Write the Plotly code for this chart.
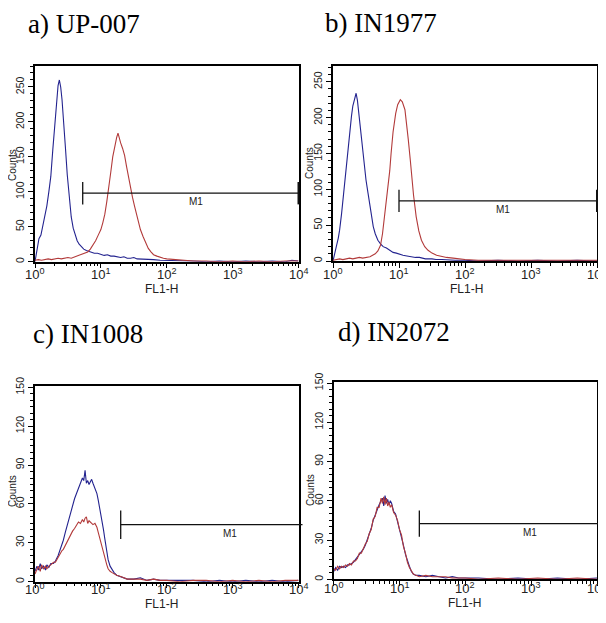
import math
import plotly.graph_objects as go

# The page body adds an 8 px margin, so the figure is drawn 8 px smaller
# and every reference pixel position is shifted by that amount.
PAGE_W, PAGE_H, BODY = 606, 623, 8
W, H = PAGE_W - BODY, PAGE_H - BODY

PANEL_TITLES = ["a) UP-007", "b) IN1977", "c) IN1008", "d) IN2072"]
X_TITLE = "FL1-H"
Y_TITLE = "Counts"
X_TICK_VALUES = [1, 10, 100, 1000, 10000]
X_TICK_TEXT = ["10<sup>0</sup>", "10<sup>1</sup>", "10<sup>2</sup>", "10<sup>3</sup>", "10<sup>4</sup>"]
Y_MAX = [280, 272, 151, 151]
Y_TICKS = [[0, 50, 100, 150, 200, 250], [0, 50, 100, 150, 200, 250],
           [0, 30, 60, 90, 120, 150], [0, 30, 60, 90, 120, 150]]
Y_MINOR_STEP = [10, 10, 5, 5]

# FL1-H positions given in decades (log10 of channel value) and counts
A_BLUE_DEC = [0.00,0.03,0.06,0.09,0.12,0.15,0.18,0.21,0.24,0.27,0.30,0.33,0.35,0.37,0.39,0.41,0.43,0.46,0.49,0.52,
              0.55,0.58,0.61,0.64,0.67,0.70,0.74,0.78,0.82,0.86,0.90,0.95,1.00,1.05,1.10,1.15,1.20,1.25,1.30,1.35,
              1.40,1.45,1.50,1.55,1.60,1.70,1.80,1.90,2.00,2.20,2.40,2.60,2.80,3.00,3.20,3.40,3.60,3.80,3.90,4.00]
A_BLUE_CNT = [0,14,33,38,52,66,80,100,122,160,198,238,252,260,250,232,210,166,124,90,
              64,48,38,30,25,22,18,16,15,13,12,12,11,9,10,8,8,7,6,7,
              5,5,6,4,4,3,3,2,2,1,1,0,1,0,1,0,1,0,2,1]
A_RED_DEC = [0.00,0.05,0.10,0.15,0.20,0.25,0.30,0.35,0.40,0.45,0.50,0.55,0.60,0.65,0.70,0.75,0.80,0.84,0.88,0.92,
             0.96,1.00,1.03,1.06,1.09,1.12,1.15,1.18,1.21,1.24,1.26,1.28,1.30,1.33,1.36,1.39,1.42,1.45,1.48,1.51,
             1.54,1.57,1.60,1.64,1.68,1.72,1.76,1.80,1.85,1.90,1.95,2.00,2.10,2.20,2.40,2.60,2.80,3.00,3.20,3.40,
             3.60,3.80,4.00]
A_RED_CNT = [2,3,2,3,4,3,4,5,4,5,6,5,7,8,10,12,14,18,24,30,
             38,46,56,68,86,104,128,150,166,178,184,176,170,162,152,136,120,106,92,80,
             68,56,46,36,26,19,14,10,8,6,5,4,3,2,1,1,0,1,0,1,
             0,1,1]

B_BLUE_DEC = [0.00,0.03,0.05,0.08,0.10,0.13,0.15,0.18,0.20,0.23,0.25,0.28,0.30,0.33,0.35,0.37,0.40,0.43,0.45,0.48,
              0.50,0.53,0.56,0.59,0.61,0.64,0.68,0.72,0.76,0.81,0.86,0.91,0.96,1.01,1.06,1.12,1.18,1.25,1.31,1.40,
              1.50,1.56,1.65,1.75,1.85,2.00,2.20,2.50,2.80,3.10,3.40,3.70,4.00]
B_BLUE_CNT = [0,10,20,32,43,66,85,110,132,160,179,202,216,226,234,224,197,172,155,130,
              113,95,76,58,48,38,29,24,20,18,15,12,11,9,8,7,6,5,5,3,
              3,2,2,1,1,1,0,1,0,1,0,1,0]
B_RED_DEC = [0.00,0.05,0.10,0.15,0.20,0.25,0.30,0.35,0.40,0.45,0.50,0.56,0.60,0.64,0.68,0.72,0.75,0.78,0.80,0.83,
             0.86,0.88,0.91,0.95,0.98,1.02,1.05,1.09,1.12,1.14,1.17,1.19,1.22,1.26,1.30,1.34,1.39,1.44,1.50,1.57,
             1.65,1.72,1.82,1.90,2.00,2.20,2.50,2.80,3.10,3.40,3.70,4.00]
B_RED_CNT = [1,2,3,2,3,4,3,4,5,4,5,6,8,10,14,22,38,62,78,99,
             126,150,180,206,218,225,222,211,190,170,142,118,92,62,42,29,20,15,11,8,
             6,5,4,3,2,1,1,0,1,0,1,1]

C_BLUE_DEC = [0.00,0.03,0.05,0.08,0.10,0.13,0.16,0.18,0.21,0.24,0.28,0.31,0.35,0.38,0.41,0.43,0.46,0.49,0.51,0.54,
              0.57,0.60,0.63,0.66,0.69,0.72,0.74,0.76,0.78,0.80,0.82,0.84,0.86,0.88,0.91,0.94,0.96,0.99,1.01,1.04,
              1.06,1.09,1.11,1.14,1.17,1.20,1.24,1.30,1.35,1.40,1.50,1.60,1.70,1.80,1.90,2.00,2.20,2.40,2.60,2.80,
              3.00,3.20,3.40,3.60,3.80,4.00]
C_BLUE_CNT = [8,12,9,14,10,12,9,13,11,14,14,16,20,24,28,32,38,44,48,53,
              58,64,68,72,76,80,78,86,76,78,75,77,79,76,72,68,63,55,48,40,
              33,24,17,12,9,7,5,4,3,2,2,3,1,2,1,1,1,1,0,1,
              0,1,0,1,0,1]
C_RED_DEC = C_BLUE_DEC
C_RED_CNT = [6,10,12,8,13,10,12,10,12,13,15,15,19,22,24,25,28,32,33,36,
             39,41,44,46,45,48,46,49,50,45,47,46,45,44,45,42,38,32,27,21,
             17,13,10,8,7,6,5,4,3,2,2,2,1,2,1,1,0,1,1,0,
             1,0,1,0,1,1]

D_BLUE_DEC = [0.00,0.03,0.06,0.09,0.12,0.15,0.18,0.21,0.24,0.27,0.30,0.33,0.36,0.39,0.42,0.45,0.48,0.51,0.54,0.57,
              0.60,0.63,0.66,0.69,0.72,0.74,0.76,0.78,0.80,0.82,0.84,0.86,0.88,0.91,0.94,0.97,1.00,1.03,1.06,1.09,
              1.12,1.15,1.18,1.21,1.25,1.30,1.40,1.50,1.60,1.70,1.80,1.90,2.00,2.20,2.50,2.80,3.10,3.40,3.70,4.00]
D_BLUE_CNT = [6,9,7,10,9,10,9,11,11,12,13,15,17,19,21,23,26,30,34,39,
              45,50,53,57,60,62,56,64,58,61,57,60,58,52,50,44,40,33,26,19,
              14,10,6,4,3,3,2,3,2,1,2,1,1,1,0,1,0,1,0,1]
D_RED_DEC = D_BLUE_DEC
D_RED_CNT = [8,7,10,8,10,9,11,10,12,11,14,14,16,20,20,24,27,29,35,38,
             46,48,55,55,62,58,63,57,62,56,59,55,57,51,49,45,38,34,25,20,
             13,9,6,4,3,2,3,2,2,2,1,1,1,0,1,0,1,0,1,0]

SERIES = [
    [(A_BLUE_DEC, A_BLUE_CNT), (A_RED_DEC, A_RED_CNT)],
    [(B_BLUE_DEC, B_BLUE_CNT), (B_RED_DEC, B_RED_CNT)],
    [(C_BLUE_DEC, C_BLUE_CNT), (C_RED_DEC, C_RED_CNT)],
    [(D_BLUE_DEC, D_BLUE_CNT), (D_RED_DEC, D_RED_CNT)],
]

# M1 marker gate: start / end FL1-H value, level (counts), half bar height, end bar shown
M1_START = [5.3, 10.0, 20.0, 20.0]
M1_END = [10000, 10000, 11500, 13500]
M1_LEVEL = [98, 84, 44, 42.5]
M1_HALF = [16, 15.5, 11, 10]
M1_RIGHT_BAR = [True, True, False, False]
M1_LABEL_DEC = [2.44, 2.58, 2.96, 2.98]

BLUE = "#23238f"
RED = "#b23a3a"

# pixel boxes in the reference page (left, right, top, bottom)
BOXES = [(35, 298.5, 66, 261.7), (333, 597, 66, 261),
         (35, 298.5, 386, 581.7), (333.7, 597, 381.7, 579.3)]
TITLE_POS = [(84, 24), (381, 23), (88, 334), (394, 332)]
X_TITLE_POS = [(161.7, 288.5), (466, 288.5), (161.7, 604), (464.7, 603)]
Y_TITLE_POS = [(12, 165), (310, 163), (12, 491), (310, 490)]
X_LABEL_TOP = [265, 265, 580, 579]

minor_x = [m * 10 ** d for d in range(4) for m in range(2, 10)]


def px_x(p):
    return (p - BODY) / W


def px_y(p):
    return 1 - (p - BODY) / H


fig = go.Figure()
layout = dict(width=W, height=H, margin=dict(l=0, r=0, t=0, b=0, autoexpand=False),
              template="none",
              paper_bgcolor="white", plot_bgcolor="white", showlegend=False)
shapes = []
annotations = []

for i in range(4):
    n = "" if i == 0 else str(i + 1)
    xa, ya = "x" + n, "y" + n
    l, r, t, b = BOXES[i]
    layout["xaxis" + n] = dict(
        domain=[px_x(l), px_x(r)], anchor=ya, type="log", range=[0, 4], automargin=False,
        tickmode="array", tickvals=X_TICK_VALUES, showticklabels=False,
        ticks="outside", ticklen=5, tickwidth=1, tickcolor="black",
        minor=dict(tickvals=minor_x, ticks="outside", ticklen=3, tickwidth=1, tickcolor="black"),
        showline=True, mirror=True, linecolor="black", linewidth=1.5,
        showgrid=False, zeroline=False,
    )
    layout["yaxis" + n] = dict(
        domain=[px_y(b), px_y(t)], anchor=xa, range=[0, Y_MAX[i]], automargin=False,
        tickmode="array", tickvals=Y_TICKS[i], tickangle=-90, ticklabeloverflow="allow",
        ticks="outside", ticklen=5, tickwidth=1, tickcolor="black",
        minor=dict(dtick=Y_MINOR_STEP[i], ticks="outside", ticklen=3, tickwidth=1, tickcolor="black"),
        showline=True, mirror=True, linecolor="black", linewidth=1.5,
        showgrid=False, zeroline=False,
        tickfont=dict(family="Liberation Sans", size=10.5, color="#222"),
    )
    for (dec, cnt), col in zip(SERIES[i], [BLUE, RED]):
        fig.add_trace(go.Scatter(x=[10 ** d for d in dec], y=cnt, mode="lines",
                                 line=dict(color=col, width=1.1), xaxis=xa, yaxis=ya,
                                 hoverinfo="skip"))
    # x tick labels (placed through the log axis: annotation x is log10 of the value)
    for v, txt in zip(X_TICK_VALUES, X_TICK_TEXT):
        annotations.append(dict(text=txt, xref=xa, yref="paper", x=math.log10(v), y=px_y(X_LABEL_TOP[i]),
                                xanchor="center", yanchor="top", showarrow=False, borderpad=0,
                                font=dict(family="Liberation Sans", size=13, color="#222")))
    ymax = Y_MAX[i]

    def fx(v):
        return math.log10(v) / 4.0

    def fy(v):
        return v / ymax

    xd, yd = xa + " domain", ya + " domain"
    x0, x1 = fx(M1_START[i]), fx(M1_END[i])
    lv, hh = M1_LEVEL[i], M1_HALF[i]
    shapes.append(dict(type="line", xref=xd, yref=yd, x0=x0, x1=x1, y0=fy(lv), y1=fy(lv),
                       line=dict(color="#111", width=1.3)))
    shapes.append(dict(type="line", xref=xd, yref=yd, x0=x0, x1=x0, y0=fy(lv - hh), y1=fy(lv + hh),
                       line=dict(color="#111", width=1.3)))
    if M1_RIGHT_BAR[i]:
        shapes.append(dict(type="line", xref=xd, yref=yd, x0=x1, x1=x1, y0=fy(lv - hh), y1=fy(lv + hh),
                           line=dict(color="#111", width=2)))
    annotations.append(dict(text="M1", xref=xa, yref=ya, x=M1_LABEL_DEC[i], y=lv,
                            yanchor="top", xanchor="center", yshift=-1, showarrow=False,
                            font=dict(family="Liberation Sans", size=10, color="#222")))
    tx, ty = TITLE_POS[i]
    annotations.append(dict(text=PANEL_TITLES[i], xref="paper", yref="paper", x=px_x(tx), y=px_y(ty),
                            xanchor="center", yanchor="middle", showarrow=False,
                            font=dict(family="Liberation Serif", size=27, color="black")))
    ax_, ay_ = X_TITLE_POS[i]
    annotations.append(dict(text=X_TITLE, xref="paper", yref="paper", x=px_x(ax_), y=px_y(ay_),
                            xanchor="center", yanchor="middle", showarrow=False,
                            font=dict(family="Liberation Sans", size=12, color="#222")))
    bx_, by_ = Y_TITLE_POS[i]
    annotations.append(dict(text=Y_TITLE, xref="paper", yref="paper", x=px_x(bx_), y=px_y(by_),
                            xanchor="center", yanchor="middle", showarrow=False, textangle=-90,
                            font=dict(family="Liberation Sans", size=10, color="#222")))

layout["shapes"] = shapes
layout["annotations"] = annotations
fig.update_layout(**layout)
fig.write_html("out.html")
